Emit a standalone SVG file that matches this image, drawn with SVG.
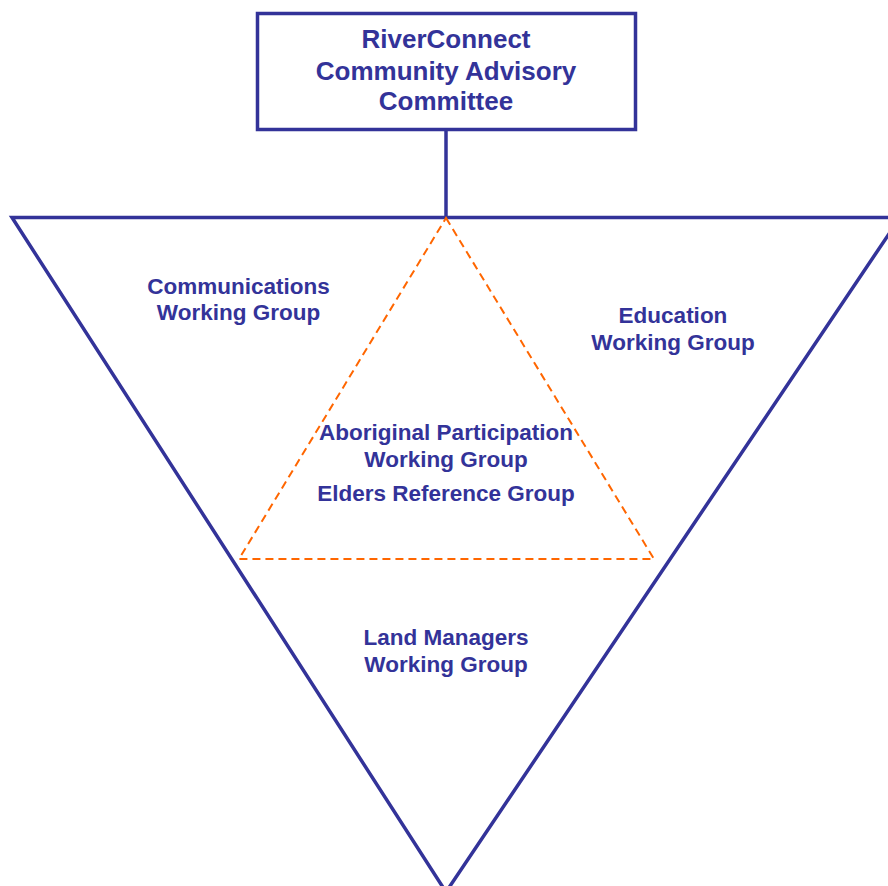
<svg xmlns="http://www.w3.org/2000/svg" width="888" height="886" viewBox="0 0 888 886">
<style>
.ln{fill:none;stroke:#333399;stroke-width:3.5;stroke-linejoin:miter}
.dash{fill:none;stroke:#FF6600;stroke-width:2;stroke-dasharray:8 5}
text{font-family:"Liberation Sans",Arial,sans-serif;font-weight:bold;fill:#333399;text-anchor:middle}
.t{font-size:26px}
.s{font-size:22.5px}
</style>
<rect width="888" height="886" fill="#ffffff"/>
<g id="connectors">
<line class="ln" x1="446" y1="130" x2="446" y2="217.5"/>
</g>
<g id="outer-triangle">
<path class="ln" d="M12,217.5 L900,217.5 L446,892 Z"/>
</g>
<g id="inner-triangle">
<path class="dash" d="M446,218 L654,559 L239,559 Z"/>
</g>
<g id="committee">
<rect class="ln" x="257.5" y="13.5" width="378" height="116"/>
<text class="t" x="446" y="48">RiverConnect</text>
<text class="t" x="446" y="79.5">Community Advisory</text>
<text class="t" x="446" y="110">Committee</text>
</g>
<g id="communications">
<text class="s" x="238.5" y="294">Communications</text>
<text class="s" x="238.5" y="320">Working Group</text>
</g>
<g id="education">
<text class="s" x="673" y="323">Education</text>
<text class="s" x="673" y="350">Working Group</text>
</g>
<g id="aboriginal">
<text class="s" x="446" y="440">Aboriginal Participation</text>
<text class="s" x="446" y="467">Working Group</text>
<text class="s" x="446" y="501">Elders Reference Group</text>
</g>
<g id="land-managers">
<text class="s" x="446" y="645">Land Managers</text>
<text class="s" x="446" y="672">Working Group</text>
</g>
</svg>
